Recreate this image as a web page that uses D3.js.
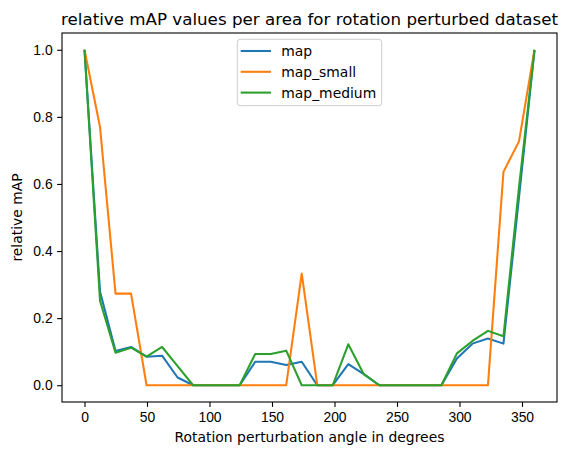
<!DOCTYPE html>
<html lang="en">
<head>
  <meta charset="UTF-8">
  <title>relative mAP values per area</title>
  <script src="https://d3js.org/d3.v7.min.js"></script>
  <style>
    body { margin: 0; background: #fff; }
    svg { display: block; font-family: "DejaVu Sans", sans-serif; }
    .tick text { font-size: 13.9px; fill: #000; }
    .tick line { stroke: #000; stroke-width: 1.1; }
    .domain { display: none; }
  </style>
</head>
<body>
  <svg id="chart" width="567" height="455"></svg>

  <script>
    // rotation angles (30 evenly spaced steps from 0 to 360)
    const angles = [0, 12.41, 24.83, 37.24, 49.66, 62.07, 74.48, 86.90, 99.31, 111.72,
                    124.14, 136.55, 148.97, 161.38, 173.79, 186.21, 198.62, 211.03, 223.45, 235.86,
                    248.28, 260.69, 273.10, 285.52, 297.93, 310.34, 322.76, 335.17, 347.59, 360];

    const mapValues = [1.0, 0.279, 0.102, 0.114, 0.085, 0.088, 0.023, 0, 0, 0,
                       0, 0.070, 0.070, 0.060, 0.070, 0, 0, 0.063, 0.033, 0,
                       0, 0, 0, 0, 0.080, 0.124, 0.139, 0.124, 0.56, 1.0];
    const mapSmall = [1.0, 0.77, 0.273, 0.273, 0, 0, 0, 0, 0, 0,
                      0, 0, 0, 0, 0.333, 0, 0, 0, 0, 0,
                      0, 0, 0, 0, 0, 0, 0, 0.636, 0.727, 1.0];
    const mapMedium = [1.0, 0.252, 0.097, 0.112, 0.085, 0.114, 0.057, 0, 0, 0,
                       0, 0.093, 0.093, 0.103, 0, 0, 0, 0.122, 0.033, 0,
                       0, 0, 0, 0, 0.095, 0.132, 0.162, 0.146, 0.59, 1.0];

    const seriesNames = ["map", "map_small", "map_medium"];
    const seriesColors = ["#1f77b4", "#ff7f0e", "#2ca02c"];
    const xTicks = [0, 50, 100, 150, 200, 250, 300, 350];
    const yTicks = [0, 0.2, 0.4, 0.6, 0.8, 1.0];

    const series = [mapValues, mapSmall, mapMedium];

    const svg = d3.select("#chart");
    const margin = {left: 62, right: 10, top: 33, bottom: 53};
    const width = 567 - margin.left - margin.right,
          height = 455 - margin.top - margin.bottom;

    const g = svg.append("g").attr("transform", `translate(${margin.left},${margin.top})`);

    // matplotlib-style 5% margins
    const x = d3.scaleLinear().domain([-18, 378]).range([0, width]);
    const y = d3.scaleLinear().domain([-0.05, 1.05]).range([height, 0]);

    // axes
    const xAxis = g.append("g")
      .attr("transform", `translate(0,${height})`)
      .call(d3.axisBottom(x).tickValues(xTicks).tickFormat(d3.format("d")).tickSize(4.9).tickPadding(4.5));
    const yAxis = g.append("g")
      .call(d3.axisLeft(y).tickValues(yTicks).tickFormat(d3.format(".1f")).tickSize(4.9).tickPadding(4.5));
    xAxis.selectAll("text").attr("dy", "0.76em");

    // lines
    const line = d3.line()
      .x((d, i) => x(angles[i]))
      .y(d => y(d));

    series.forEach((vals, k) => {
      g.append("path")
        .datum(vals)
        .attr("fill", "none")
        .attr("stroke", seriesColors[k])
        .attr("stroke-width", 2.08)
        .attr("stroke-linejoin", "round")
        .attr("d", line);
    });

    // frame
    g.append("rect")
      .attr("width", width).attr("height", height)
      .attr("fill", "none").attr("stroke", "#000").attr("stroke-width", 1.1);

    // legend (upper center)
    const lg = g.append("g").attr("transform", `translate(${width / 2 - 72.2},6.3)`);
    lg.append("rect")
      .attr("width", 144.4).attr("height", 66.4)
      .attr("rx", 3).attr("ry", 3)
      .attr("fill", "rgba(255,255,255,0.8)")
      .attr("stroke", "#cccccc").attr("stroke-width", 1);
    seriesNames.forEach((name, k) => {
      const yy = 11.7 + k * 20.8;
      lg.append("line")
        .attr("x1", 3.4).attr("x2", 33.7)
        .attr("y1", yy).attr("y2", yy)
        .attr("stroke", seriesColors[k]).attr("stroke-width", 2.08);
      lg.append("text")
        .attr("x", 44).attr("y", yy)
        .attr("dy", "0.36em")
        .style("font-size", "13.9px")
        .text(name);
    });

    // title and axis labels
    svg.append("text")
      .attr("x", margin.left + width / 2).attr("y", 25)
      .attr("text-anchor", "middle")
      .style("font-size", "16.7px")
      .text("relative mAP values per area for rotation perturbed dataset");

    svg.append("text")
      .attr("x", margin.left + width / 2).attr("y", 442)
      .attr("text-anchor", "middle")
      .style("font-size", "13.9px")
      .text("Rotation perturbation angle in degrees");

    svg.append("text")
      .attr("transform", `translate(22,${margin.top + height / 2}) rotate(-90)`)
      .attr("text-anchor", "middle")
      .style("font-size", "13.9px")
      .text("relative mAP");
  </script>
</body>
</html>
